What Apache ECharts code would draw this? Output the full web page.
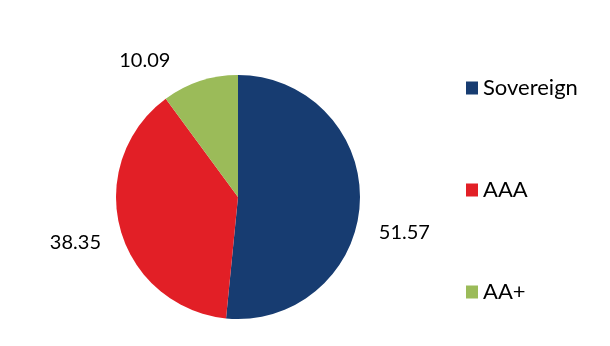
<!DOCTYPE html>
<html><head><meta charset="utf-8">
<script src="https://cdn.jsdelivr.net/npm/echarts@6/dist/echarts.min.js"></script>
<style>html,body{margin:0;padding:0;background:#fff}#c{width:610px;height:346px}</style>
</head><body><div id="c"></div>
<script>
const categories = ['Sovereign', 'AAA', 'AA+'];
const values = [51.57, 38.35, 10.09];
const colors = ['#173c71', '#e21f26', '#9bbb59'];
const labelShift = [[-4, 29], [3, 9], [-19, -3]];

const chart = echarts.init(document.getElementById('c'));
chart.setOption({
  animation: false,
  color: colors,
  legend: {
    orient: 'vertical',
    left: 461,
    top: 72,
    itemWidth: 12,
    itemHeight: 13,
    itemGap: 80,
    icon: 'rect',
    textStyle: { fontFamily: 'Lato', fontSize: 22, color: '#000', lineHeight: 22, padding: [0,0,0,0] },
    data: categories
  },
  series: [{
    type: 'pie',
    center: [238, 197],
    radius: 122,
    startAngle: 90,
    clockwise: true,
    label: {
      show: true,
      position: 'outside',
      formatter: p => p.value.toFixed(2),
      fontFamily: 'Lato',
      fontSize: 20,
      color: '#000'
    },
    labelLine: { show: false, length: 18, length2: 0 },
    labelLayout: p => ({ dx: labelShift[p.dataIndex][0], dy: labelShift[p.dataIndex][1] }),
    itemStyle: { borderWidth: 0 },
    data: categories.map((c, i) => ({ name: c, value: values[i] }))
  }]
});
</script></body></html>
